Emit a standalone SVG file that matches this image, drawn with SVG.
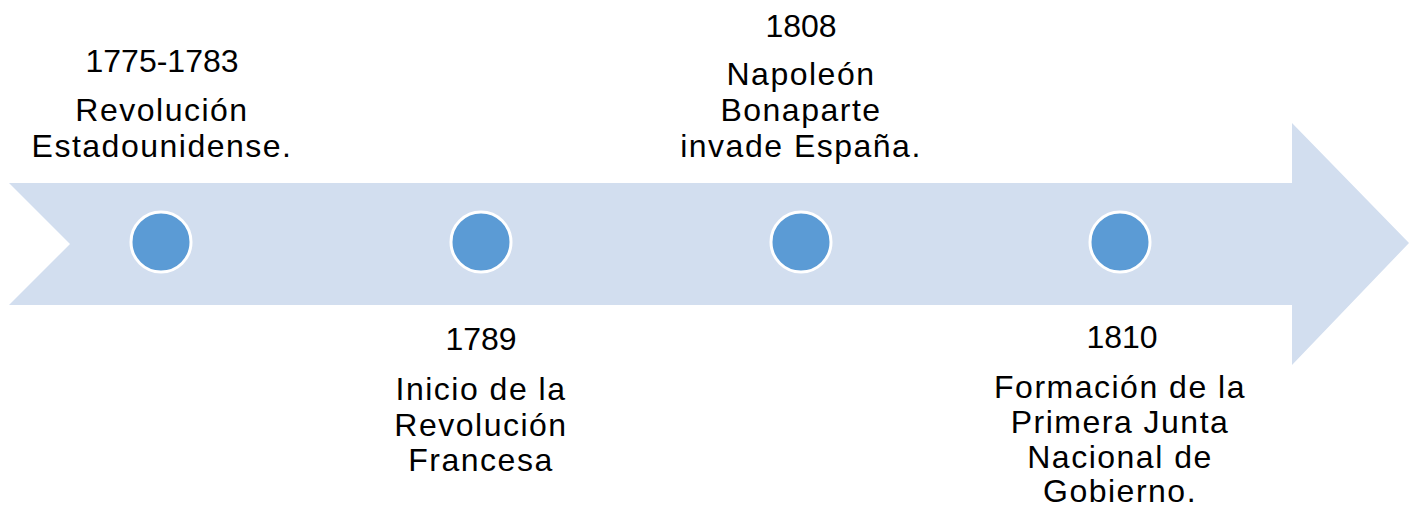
<svg xmlns="http://www.w3.org/2000/svg" width="1409" height="508" viewBox="0 0 1409 508">
<style>
.t{font-family:"Liberation Sans",Arial,sans-serif;font-size:32px;fill:#000;text-anchor:middle}
.d{letter-spacing:1.5px}
.dot{fill:#5B9BD5;stroke:#fff;stroke-width:3}
</style>
<rect width="1409" height="508" fill="#fff"/>
<g id="timeline-arrow">
<polygon points="9,183 1292,183 1292,123 1409,243 1292,365 1292,305 9,305 70,244" fill="#D2DEEF"/>
</g>
<g id="connectors"></g>
<g id="event-1775">
<circle class="dot" cx="161" cy="242" r="30"/>
<text class="t" x="162" y="72">1775-1783</text>
<text class="t d" x="162" y="121">Revolución</text>
<text class="t d" x="162" y="157">Estadounidense.</text>
</g>
<g id="event-1789">
<circle class="dot" cx="481" cy="242" r="30"/>
<text class="t" x="481" y="350">1789</text>
<text class="t d" x="481" y="400">Inicio de la</text>
<text class="t d" x="481" y="436">Revolución</text>
<text class="t d" x="481" y="471">Francesa</text>
</g>
<g id="event-1808">
<circle class="dot" cx="801" cy="242" r="30"/>
<text class="t" x="801" y="37">1808</text>
<text class="t d" x="801" y="85">Napoleón</text>
<text class="t d" x="801" y="121">Bonaparte</text>
<text class="t d" x="801" y="157">invade España.</text>
</g>
<g id="event-1810">
<circle class="dot" cx="1120" cy="242" r="30"/>
<text class="t" x="1122" y="348">1810</text>
<text class="t d" x="1120" y="398">Formación de la</text>
<text class="t d" x="1120" y="433">Primera Junta</text>
<text class="t d" x="1120" y="468">Nacional de</text>
<text class="t d" x="1120" y="502">Gobierno.</text>
</g>
</svg>
